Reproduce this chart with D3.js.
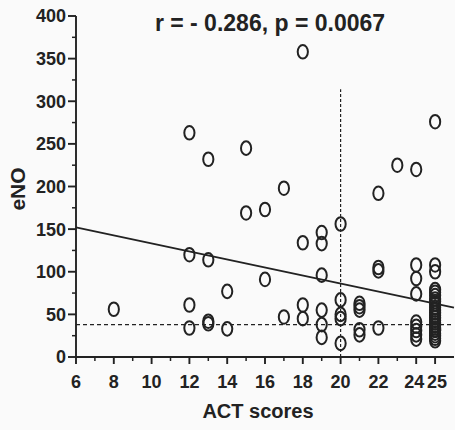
<!DOCTYPE html>
<html>
<head>
<meta charset="utf-8">
<script src="https://cdn.jsdelivr.net/npm/d3@7"></script>
<style>
  html, body { margin: 0; padding: 0; background: #fafafa; }
  text { font-family: "Liberation Sans", Arial, sans-serif; font-weight: bold; fill: #222; }
</style>
</head>
<body>
<div id="chart"></div>
<script>
// ACT score (x) and eNO (y) for each subject
const actScores = [
  8,
  12, 12, 12, 12,
  13, 13, 13, 13,
  14, 14,
  15, 15,
  16, 16,
  17, 17,
  18, 18, 18, 18,
  19, 19, 19, 19, 19, 19,
  20, 20, 20, 20, 20,
  21, 21, 21, 21, 21,
  22, 22, 22, 22,
  23,
  24, 24, 24, 24, 24, 24, 24, 24, 24,
  25, 25, 25, 25, 25, 25, 25, 25, 25, 25, 25, 25, 25, 25, 25, 25, 25, 25, 25, 25, 25, 25, 25, 25
];
const enoValues = [
  56,
  263, 120, 61, 34,
  232, 114, 42, 39,
  77, 33,
  245, 169,
  173, 91,
  198, 47,
  358, 134, 61, 45,
  146, 133, 96, 55, 38, 23,
  156, 67, 50, 45, 16,
  63, 59, 55, 32, 26,
  192, 105, 101, 34,
  225,
  220, 108, 92, 74, 41, 36, 31, 26, 21,
  276, 108, 100, 79, 76, 72, 68, 65, 62, 58, 55, 52, 49, 46, 43, 40, 37, 34, 31, 28, 25, 22, 19, 32
];

const xTicksMajor = [6, 8, 10, 12, 14, 16, 18, 20, 22, 24, 25];
const xTicksMinor = [7, 9, 11, 13, 15, 17, 19, 21, 23];
const yTicksMajor = [0, 50, 100, 150, 200, 250, 300, 350, 400];
const yTicksMinor = [25, 75, 125, 175, 225, 275, 325, 375];

// linear fit eNO = intercept + slope * ACT
const fitIntercept = 180.2;
const fitSlope = -4.7;
const fitRange = [6, 26];

const refEno = 38;          // horizontal dashed reference
const refAct = 20;          // vertical dashed reference
const refActTop = 314;

const titleText = 'r = - 0.286, p = 0.0067';

const width = 455;
const height = 430;

const x = d3.scaleLinear().domain([6, 26]).range([76, 454]);
const y = d3.scaleLinear().domain([0, 400]).range([357, 16]);

const svg = d3.select('#chart')
  .append('svg')
  .attr('width', width)
  .attr('height', height);

const ink = '#222';

// reference lines
svg.append('line')
  .attr('x1', x(6)).attr('x2', x(26))
  .attr('y1', y(refEno)).attr('y2', y(refEno))
  .style('stroke', ink)
  .style('stroke-width', 1.2)
  .style('stroke-dasharray', '4,3');

svg.append('line')
  .attr('x1', x(refAct)).attr('x2', x(refAct))
  .attr('y1', y(0)).attr('y2', y(refActTop))
  .style('stroke', ink)
  .style('stroke-width', 1.2)
  .style('stroke-dasharray', '3,2');

// regression line
svg.append('line')
  .attr('x1', x(fitRange[0]))
  .attr('x2', x(fitRange[1]))
  .attr('y1', y(fitIntercept + fitSlope * fitRange[0]))
  .attr('y2', y(fitIntercept + fitSlope * fitRange[1]))
  .style('stroke', ink)
  .style('stroke-width', 1.9);

// points
const points = actScores.map((a, i) => ({act: a, eno: enoValues[i]}));
svg.append('g')
  .selectAll('ellipse')
  .data(points)
  .enter().append('ellipse')
    .attr('cx', d => x(d.act))
    .attr('cy', d => y(d.eno))
    .attr('rx', 5.1)
    .attr('ry', 6.8)
    .style('fill', 'none')
    .style('stroke', ink)
    .style('stroke-width', 2);

// x axis
const xAxis = svg.append('g').attr('transform', `translate(0,${y(0)})`);
xAxis.append('line')
  .attr('x1', x(6)).attr('x2', x(26))
  .style('stroke', ink).style('stroke-width', 1.9);
xAxis.selectAll('.major')
  .data(xTicksMajor)
  .enter().append('line')
    .attr('x1', d => x(d)).attr('x2', d => x(d))
    .attr('y1', 0).attr('y2', 7)
    .style('stroke', ink).style('stroke-width', 1.9);
xAxis.selectAll('.minor')
  .data(xTicksMinor)
  .enter().append('line')
    .attr('x1', d => x(d)).attr('x2', d => x(d))
    .attr('y1', 0).attr('y2', 4)
    .style('stroke', ink).style('stroke-width', 1.5);
// 24 and 25 sit close together, so push their labels apart a little
xAxis.selectAll('text')
  .data(xTicksMajor)
  .enter().append('text')
    .attr('x', d => x(d) + (d === 24 ? -2 : d === 25 ? 2 : 0))
    .attr('y', 31)
    .attr('text-anchor', 'middle')
    .style('font-size', '18px')
    .text(d => d);

// y axis
const yAxis = svg.append('g').attr('transform', `translate(${x(6)},0)`);
yAxis.append('line')
  .attr('y1', y(0)).attr('y2', y(400))
  .style('stroke', ink).style('stroke-width', 1.9);
yAxis.selectAll('.major')
  .data(yTicksMajor)
  .enter().append('line')
    .attr('y1', d => y(d)).attr('y2', d => y(d))
    .attr('x1', -8).attr('x2', 0)
    .style('stroke', ink).style('stroke-width', 1.9);
yAxis.selectAll('.minor')
  .data(yTicksMinor)
  .enter().append('line')
    .attr('y1', d => y(d)).attr('y2', d => y(d))
    .attr('x1', -4).attr('x2', 0)
    .style('stroke', ink).style('stroke-width', 1.5);
yAxis.selectAll('text')
  .data(yTicksMajor)
  .enter().append('text')
    .attr('x', -10)
    .attr('y', d => y(d))
    .attr('dy', '0.36em')
    .attr('text-anchor', 'end')
    .style('font-size', '18px')
    .text(d => d);

// axis titles
svg.append('text')
  .attr('x', 258)
  .attr('y', 418)
  .attr('text-anchor', 'middle')
  .style('font-size', '20px')
  .text('ACT scores');

svg.append('text')
  .attr('transform', 'translate(25,189) rotate(-90)')
  .attr('text-anchor', 'middle')
  .style('font-size', '21px')
  .text('eNO');

// correlation label
svg.append('text')
  .attr('x', 270)
  .attr('y', 31)
  .attr('text-anchor', 'middle')
  .style('font-size', '23px')
  .text(titleText);
</script>
</body>
</html>
